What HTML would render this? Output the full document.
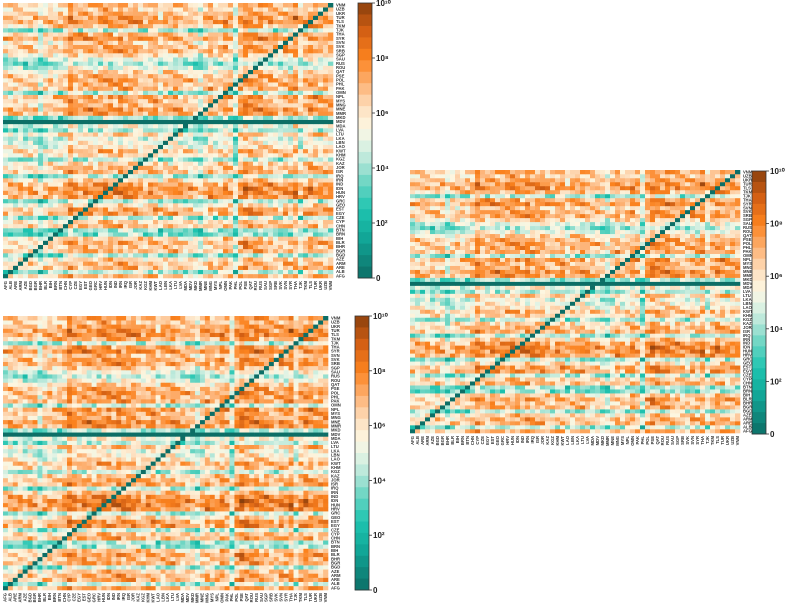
<!DOCTYPE html>
<html><head><meta charset="utf-8"><style>
body{margin:0;background:#fff;width:789px;height:605px;overflow:hidden;font-family:"Liberation Sans",sans-serif}
svg{position:absolute;left:0;top:0}
</style></head><body>
<svg id="fig" width="789" height="605" xmlns="http://www.w3.org/2000/svg"></svg>
<script>
const countries=["AFG","ALB","ARE","ARM","AZE","BGD","BGR","BHR","BLR","BIH","BRN","BTN","CHN","CYP","CZE","EGY","EST","GEO","GRC","HRV","HUN","IDN","IND","IRN","IRQ","ISR","JOR","KAZ","KGZ","KHM","KWT","LAO","LBN","LKA","LTU","LVA","MDA","MDV","MKD","MMR","MNE","MNG","MYS","NPL","OMN","PAK","PHL","POL","PSE","QAT","ROU","RUS","SAU","SGP","SRB","SVK","SVN","SYR","THA","TJK","TKM","TLS","TUR","UKR","UZB","VNM"];
// row effects (log10 offsets), listed from bottom row (index 0) to top
const rowEffect=[0.2,-2.2,0.3,0.2,-0.3,-2.4,0.3,0,0.5,-0.2,-2.8,-2.6,0.3,-0.4,-2.2,0.8,0.6,-0.6,-2.3,0.9,1.2,1.3,0.8,-0.2,-2.3,0.4,0.1,-0.3,-2.3,-0.4,0.2,-0.8,-1.2,-1.5,-0.2,-2.4,-1.3,-9,-2.5,0.6,1.0,0.2,0.3,0.7,-2.2,0.4,0.3,0.6,0.3,-0.3,-1.5,-2.4,-1.7,-0.4,0.6,0.5,-0.2,1.0,0.4,-2.3,0.3,1.0,0.8,0.4,-0.2,0.2];
// column effects (log10 offsets), left to right
const colEffect=[-0.5,-0.4,-0.3,-0.2,-0.6,-0.3,-0.4,-1.6,-0.6,-0.2,-0.4,-0.3,-0.1,1.2,0.5,0.3,0.6,0.4,0.2,0.5,0.7,0.6,0.3,0.8,0.5,0.4,0.6,0.2,-0.1,0.3,0.5,-0.5,0.2,0.1,0.3,0.0,-0.3,-0.2,-0.8,-1.3,-0.3,0.4,-0.2,0.0,0.5,0.2,-1.6,0.6,1.2,0.9,0.6,0.7,0.3,0.4,0.2,-0.2,0.4,0.1,0.9,-0.6,0.3,0.8,0.5,0.2,0.3,0.4];
const jitter=[0.3,-0.6,0.9,-0.2,0.5,-1.0,0.1,0.7,-0.4,0.2,-0.8,0.6,-0.1,1.1,-0.5,0.4,-0.3];
const jitter2=[0.2,-0.4,0.5,0.0,-0.3,0.6,-0.2,0.3,-0.5,0.1,0.4,-0.1,0.0];
const tickLabels=["0","10²","10⁴","10⁶","10⁸","10¹⁰"];
const tickValues=[0,2,4,6,8,10];
const stops=[[0,[12,110,102]],[1.5,[18,168,152]],[2.5,[30,196,176]],[3.5,[111,214,196]],[4.2,[178,230,216]],[5,[232,245,230]],[5.5,[253,246,224]],[6.2,[253,224,192]],[7,[253,181,122]],[8,[251,130,30]],[9,[210,95,20]],[10,[138,63,12]]];
function color(v){v=Math.max(0,Math.min(10,v));for(let k=1;k<stops.length;k++){if(v<=stops[k][0]){const a=stops[k-1],b=stops[k],t=(v-a[0])/(b[0]-a[0]);return "rgb("+a[1].map((c,i)=>Math.round(c+(b[1][i]-c)*t)).join(",")+")";}}return "rgb(138,63,12)";}
const NS="http://www.w3.org/2000/svg",svg=document.getElementById("fig");
function mk(t,a,p){const e=document.createElementNS(NS,t);for(const k in a)e.setAttribute(k,a[k]);(p||svg).appendChild(e);return e;}
function heat(x0,y0,w,h,base,cb){
 const g=mk("g",{});
 
 
 const n=countries.length,cw=w/n,rh=h/n;
 const xs=j=>x0+j*cw, ys=i=>y0+h-(i+1)*rh;
 for(let i=0;i<n;i++)for(let j=0;j<n;j++){
  let v=(i===j)?0:base+rowEffect[i]+colEffect[j]+jitter[(i*5+j*11)%jitter.length]+jitter2[(i*j+i)%jitter2.length];
  const r=mk("rect",{x:xs(j).toFixed(2),y:ys(i).toFixed(2),width:(cw+0.3).toFixed(2),height:(rh+0.3).toFixed(2),fill:color(v)},g);
  
  
 }
 for(let i=0;i<n;i++){const t=mk("text",{x:x0+w+3,y:(ys(i)+rh*0.85).toFixed(2),"font-size":"4.2","font-weight":"bold",fill:"#333"},g);t.textContent=countries[i];
  
  }
 for(let j=0;j<n;j++){const cx=xs(j)+cw*0.75,cy=y0+h+3;const t=mk("text",{x:cx,y:cy,"font-size":"4.2","font-weight":"bold",fill:"#333","text-anchor":"end",transform:`rotate(-90 ${cx} ${cy})`},g);t.textContent=countries[j];
  
  }
 const [bx,by,bw,bh]=cb,nb=24;
 const cg=mk("g",{});
 
 
 for(let k=0;k<nb;k++){mk("rect",{x:bx,y:(by+bh*k/nb).toFixed(2),width:bw,height:(bh/nb+0.4).toFixed(2),fill:color(10-(k+0.5)*10/nb)},cg);}
 mk("rect",{x:bx,y:by,width:bw,height:bh,fill:"none",stroke:"#333","stroke-width":0.8},cg);
 tickValues.forEach((tv,k)=>{const yy=by+bh*(1-tv/10);mk("line",{x1:bx+bw,x2:bx+bw+3,y1:yy,y2:yy,stroke:"#333","stroke-width":0.8},cg);
  const t=mk("text",{x:bx+bw+4,y:yy+3,"font-size":"8","font-weight":"bold",fill:"#222"},cg);t.textContent=tickLabels[k];
  
  });
}
heat(3,3,330,275,6.2,[358,3,14,275]);
heat(3,316,325,274,6.5,[355,316,14,274]);
heat(410,170,330,263,6.3,[752,171,14,263]);
</script>
</body></html>
